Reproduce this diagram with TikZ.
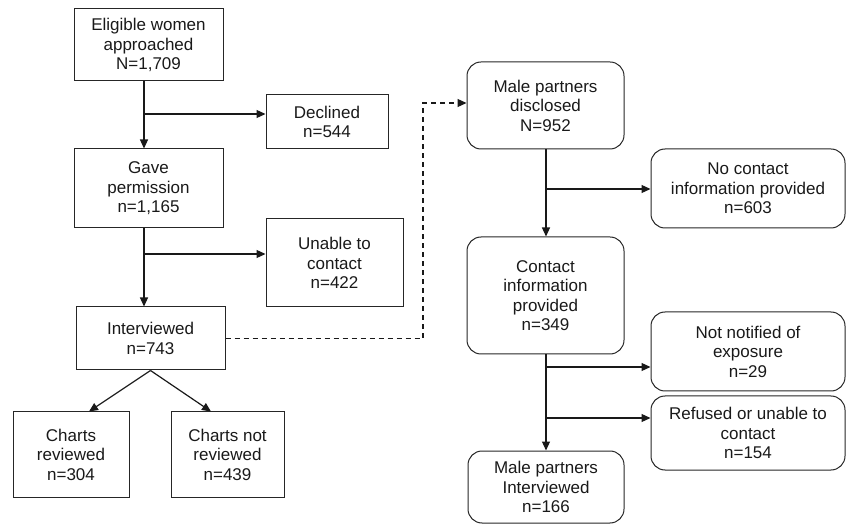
\documentclass[tikz,border=0pt]{standalone}
\usepackage{fontspec}
\setmainfont{Liberation Sans}
\usetikzlibrary{arrows.meta}

\begin{document}
\begin{tikzpicture}[x=1pt, y=-1pt,
    font=\fontsize{17}{19.5}\selectfont,
    box/.style={draw=black!85, line width=1pt, align=center, inner sep=0pt, text=black!90},
    rbox/.style={box, rounded corners=14pt},
    arr/.style={-{Triangle[length=9pt,width=8pt]}, line width=1.2pt, draw=black!90}]
    \useasboundingbox (0,0) rectangle (846,526);

    % women
    \node[box, minimum width=149pt, minimum height=72pt] (elig) at (148.5,45) {Eligible women\\approached\\N=1,709};
    \node[box, minimum width=122pt, minimum height=54pt] (decl) at (327,122) {Declined\\n=544};
    \node[box, minimum width=149pt, minimum height=79pt] (gave) at (148.5,188.5) {Gave\\permission\\n=1,165};
    \node[box, minimum width=137pt, minimum height=88pt] (unable) at (334.5,263) {Unable to\\contact\\n=422};
    \node[box, minimum width=149pt, minimum height=63pt] (interv) at (150.5,338.5) {Interviewed\\n=743};
    \node[box, minimum width=116pt, minimum height=85pt] (chartsr) at (71,454.5) {Charts\\reviewed\\n=304};
    \node[box, minimum width=113pt, minimum height=85pt] (chartsn) at (227.5,454.5) {Charts not\\reviewed\\n=439};

    % partners
    \node[rbox, minimum width=157pt, minimum height=87pt] (male) at (545.5,105.5) {Male partners\\disclosed\\N=952};
    \node[rbox, minimum width=194pt, minimum height=79pt] (nocontact) at (748,188.5) {No contact\\information provided\\n=603};
    \node[rbox, minimum width=157pt, minimum height=117pt] (contact) at (545.5,295.5) {Contact\\information\\provided\\n=349};
    \node[rbox, minimum width=194pt, minimum height=79pt] (notnot) at (748,351.5) {Not notified of\\exposure\\n=29};
    \node[rbox, minimum width=194pt, minimum height=74pt] (refused) at (748,433) {Refused or unable to\\contact\\n=154};
    \node[rbox, minimum width=156pt, minimum height=72pt] (maleint) at (546,487) {Male partners\\Interviewed\\n=166};

    \coordinate (b1) at (144,114);
    \coordinate (b2) at (144,254);
    \coordinate (b3) at (546,189);
    \coordinate (b4) at (546,367);
    \coordinate (b5) at (546,418);
    \coordinate (d1) at (423,103);

    \draw[arr] (elig.south -| b1) -- (gave.north -| b1);
    \draw[arr] (b1) -- (b1 -| decl.west);
    \draw[arr] (gave.south -| b2) -- (interv.north -| b2);
    \draw[arr] (b2) -- (b2 -| unable.west);
    \draw[arr] (interv.south) -- ([xshift=18pt]chartsr.north);
    \draw[arr] (interv.south) -- ([xshift=-16.5pt]chartsn.north);

    \draw[arr, dash pattern=on 5pt off 4pt] (interv.east) -| (d1) -- (d1 -| male.west);

    \draw[arr] (male.south -| b3) -- (contact.north -| b3);
    \draw[arr] (b3) -- (b3 -| nocontact.west);
    \draw[arr] (contact.south -| b4) -- (maleint.north -| b4);
    \draw[arr] (b4) -- (b4 -| notnot.west);
    \draw[arr] (b5) -- (b5 -| refused.west);
\end{tikzpicture}
\end{document}
